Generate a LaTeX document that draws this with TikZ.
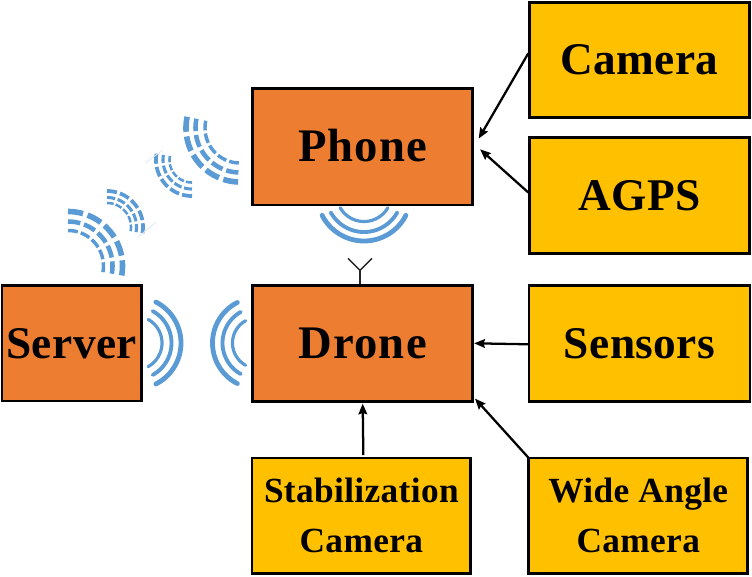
\documentclass[tikz,border=0pt]{standalone}
\usepackage{fontspec}
\setmainfont{Liberation Serif}
\newfontfamily\labelfont[LetterSpace=1.0]{Liberation Serif}
\newfontfamily\widelabelfont[LetterSpace=2.5]{Liberation Serif}
\usetikzlibrary{arrows.meta,calc}
\definecolor{boxorange}{HTML}{ED7D31}
\definecolor{boxyellow}{HTML}{FFC000}
\definecolor{wave}{HTML}{5B9BD5}
\definecolor{faint}{HTML}{DCE9F5}
\tikzset{
  px/.style={x=0.75pt,y=-0.75pt},
  basebox/.style={draw=black,line width=2.1pt,outer sep=0pt,anchor=north west,inner sep=0pt,align=center,text height=22.5pt,text depth=0pt,font=\labelfont\bfseries\fontsize{34}{34}\selectfont},
  mainbox/.style={basebox,fill=boxorange},
  partbox/.style={basebox,fill=boxyellow},
  widerlabel/.style={font=\widelabelfont\bfseries\fontsize{35}{35}\selectfont},
  smalltext/.style={font=\labelfont\bfseries\fontsize{26.5}{37.5}\selectfont,text height=,text depth=},
  conn/.style={draw=black,line width=1.7pt,-{Stealth[length=8pt,width=6.5pt,inset=1pt]}},
  ant/.style={draw=black!85,line width=1.05pt},
  wavearc/.style={draw=wave,line cap=round},
}
% solid wave: centre x, y, middle angle, half angle, radius, width
\newcommand{\solidarc}[6]{\draw[wavearc,line width=#6]
  plot[domain=#3-#4:#3+#4,samples=40,smooth] ({#1+#5*cos(\x)},{#2+#5*sin(\x)});}
% dashed wave: centre x, y, start angle, radius, width
\newcommand{\dasharc}[5]{%
  \foreach \k in {0,1,2,3,4}{%
    \pgfmathsetmacro{\aa}{#3+\k*21}\pgfmathsetmacro{\bb}{\aa+16}%
    \draw[draw=wave,line width=#5]
      plot[domain=\aa:\bb,samples=8,smooth] ({#1+#4*cos(\x)},{#2+#4*sin(\x)});}}
\begin{document}
\begin{tikzpicture}[px]
\useasboundingbox (0,0) rectangle (752,576);
\node[mainbox,widerlabel,minimum width=165pt,minimum height=87.5pt] (phone) at (252.7,88.3) {Phone};
\node[mainbox,widerlabel,minimum width=165pt,minimum height=87pt] (drone) at (252.7,285.3) {Drone};
\node[mainbox,minimum width=104.5pt,minimum height=86.7pt] (server) at (2,285.3) {Server};
\node[partbox,minimum width=165pt,minimum height=86.5pt] (camera) at (529.3,2.3) {Camera};
\node[partbox,minimum width=165pt,minimum height=86.7pt] (agps) at (529.3,137.7) {AGPS};
\node[partbox,minimum width=165.7pt,minimum height=87pt] (sensors) at (529,285.3) {Sensors};
\node[partbox,smalltext,minimum width=164pt,minimum height=86.5pt] (stab) at (252,458) {Stabilization\\Camera};
\node[partbox,smalltext,minimum width=164.3pt,minimum height=86.5pt] (wide) at (528.7,458) {Wide Angle\\Camera};
% connectors
\draw[conn] ($(camera.west)+(-1,-6.7)$) -- ($(phone.east)+(6,-8)$);
\draw[conn] ($(agps.west)+(-1,-3)$) -- ($(phone.east)+(7.4,2.7)$);
\draw[conn] ($(sensors.west)+(0,1)$) -- ($(drone.east)+(1.5,0)$);
\draw[conn] ($(stab.north)+(2,-3)$) -- ($(drone.south)+(0,2.3)$);
\draw[conn] (wide.north west) -- ($(drone.south east)+(2.3,-2.7)$);
% antenna
\coordinate (antjoin) at ($(drone.north)+(-2.7,-15)$);
\draw[ant] ($(drone.north)+(-2.7,-1)$) -- (antjoin);
\draw[ant] (antjoin) -- +(-12,-12);
\draw[ant] (antjoin) -- +(12,-12);
% phone wave
\solidarc{364}{194}{90}{60}{27.5}{2.4pt}
\solidarc{364}{194}{90}{61}{38}{2.9pt}
\solidarc{364}{194}{90}{63}{47}{3.6pt}
% server wave
\solidarc{135}{343}{0}{61}{27}{2.4pt}
\solidarc{135}{343}{0}{61}{36.5}{2.9pt}
\solidarc{135}{343}{0}{63}{46}{3.6pt}
% drone wave
\begin{scope}
\clip (190,280) rectangle (247,410);
\solidarc{258}{343}{180}{61}{25.5}{2.4pt}
\end{scope}
\solidarc{258}{343}{180}{61}{35.5}{2.9pt}
\solidarc{258}{343}{180}{63}{45.5}{3.6pt}
% dashed waves, upper right
\dasharc{240}{128}{92}{35}{2.6pt}
\dasharc{240}{128}{92}{44.5}{3.4pt}
\dasharc{240}{128}{92}{54}{4.2pt}
\dasharc{192}{160}{90}{22.5}{1.9pt}
\dasharc{192}{160}{90}{29}{2.3pt}
\dasharc{192}{160}{90}{36}{2.8pt}
% dashed waves, lower left
\dasharc{107}{227}{-90}{24}{1.9pt}
\dasharc{107}{227}{-90}{29.5}{2.3pt}
\dasharc{107}{227}{-90}{36}{2.8pt}
\dasharc{68}{266}{-90}{35.5}{2.6pt}
\dasharc{68}{266}{-90}{44.5}{3.4pt}
\dasharc{68}{266}{-90}{54.5}{4.2pt}
% faint marks
\draw[faint,line width=.6pt] (145,163) -- (163,150);
\draw[faint,line width=.6pt] (138,237) -- (156,222);
\end{tikzpicture}
\end{document}
